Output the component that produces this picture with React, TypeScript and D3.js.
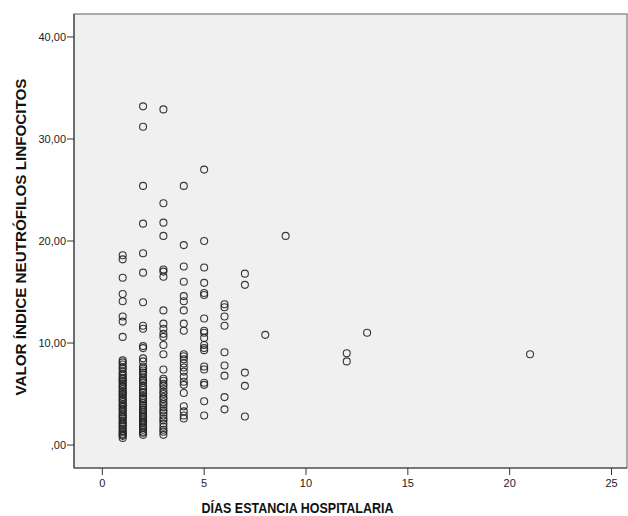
import React from "react";
import * as d3 from "d3";

// valores (días de estancia -> índice neutrófilos/linfocitos)
const day1 = [18.6, 18.2, 16.4, 14.8, 14.1, 12.6, 12.1, 10.6, 8.3, 8.1, 7.9, 7.6, 7.5, 7.2, 7.0, 6.8, 6.6, 6.5, 6.3, 6.2, 6.0, 5.8, 5.7, 5.5, 5.3, 5.2, 5.0, 4.9, 4.7, 4.5, 4.4, 4.2, 4.0, 3.9, 3.7, 3.5, 3.4, 3.2, 3.0, 2.9, 2.7, 2.6, 2.4, 2.2, 2.1, 1.9, 1.8, 1.6, 1.4, 1.3, 1.1, 1.0, 0.9, 0.7];
const day2 = [33.2, 31.2, 25.4, 21.7, 18.8, 16.9, 14.0, 11.7, 11.4, 9.7, 9.5, 8.5, 8.2, 7.7, 7.5, 7.3, 7.1, 6.9, 6.6, 6.4, 6.3, 6.1, 5.8, 5.6, 5.4, 5.2, 5.1, 4.8, 4.6, 4.5, 4.3, 4.1, 3.9, 3.7, 3.5, 3.4, 3.2, 3.0, 2.8, 2.7, 2.5, 2.3, 2.2, 2.0, 1.8, 1.7, 1.5, 1.3, 1.2, 1.0];
const day3 = [32.9, 23.7, 21.8, 20.5, 17.2, 17.0, 16.5, 13.2, 11.9, 11.4, 10.9, 10.6, 9.8, 8.9, 7.4, 6.5, 6.3, 6.0, 5.8, 5.5, 5.2, 5.0, 4.7, 4.5, 4.2, 4.0, 3.7, 3.4, 3.2, 2.9, 2.6, 2.4, 2.1, 1.8, 1.5, 1.3, 1.0];
const day4 = [25.4, 19.6, 17.5, 16.0, 14.6, 14.1, 13.2, 11.9, 11.2, 8.9, 8.7, 8.4, 8.0, 7.6, 7.2, 6.7, 6.2, 5.9, 5.1, 3.8, 3.3, 2.9, 2.6];
const day5 = [27.0, 20.0, 17.4, 15.9, 14.9, 14.7, 12.4, 11.2, 11.0, 10.5, 9.8, 9.5, 9.3, 7.7, 7.4, 6.1, 5.9, 4.3, 2.9];
const day6 = [13.8, 13.5, 12.6, 11.7, 9.1, 7.8, 6.8, 4.7, 3.5];
const day7 = [16.8, 15.7, 7.1, 5.8, 2.8];
const day8 = [10.8];
const day9 = [20.5];
const day12 = [9.0, 8.2];
const day13 = [11.0];
const day21 = [8.9];

const days = [1, 2, 3, 4, 5, 6, 7, 8, 9, 12, 13, 21];
const valuesByDay = [day1, day2, day3, day4, day5, day6, day7, day8, day9, day12, day13, day21];

const xTicks = [0, 5, 10, 15, 20, 25];
const yTicks = [0, 10, 20, 30, 40];

const xTitle = "DÍAS ESTANCIA HOSPITALARIA";
const yTitle = "VALOR ÍNDICE NEUTRÓFILOS LINFOCITOS";

const W = 628;
const H = 516;
const plot = { left: 74, right: 627, top: 14, bottom: 468 };

const fmt = (v: number) => (v === 0 ? ",00" : v.toFixed(2).replace(".", ","));

export default function App() {
  const x = d3.scaleLinear().domain([-1.39, 25.76]).range([plot.left, plot.right]);
  const y = d3.scaleLinear().domain([-2.25, 42.25]).range([plot.bottom, plot.top]);

  const points = days.flatMap((d, i) => valuesByDay[i].map((v) => ({ d, v })));
  const font = "'Liberation Sans', Arial, sans-serif";

  return (
    <svg width={W} height={H} style={{ position: "absolute", left: 0, top: 0, background: "#fff" }}>
      <rect x={plot.left} y={plot.top} width={plot.right - plot.left} height={plot.bottom - plot.top}
        fill="#f0f0f0" stroke="#7a7a7a" strokeWidth={1.2} />
      <line x1={plot.left} x2={plot.left} y1={plot.top} y2={plot.bottom} stroke="#444" strokeWidth={1.2} />
      <line x1={plot.left} x2={plot.right} y1={plot.bottom} y2={plot.bottom} stroke="#444" strokeWidth={1.2} />

      {yTicks.map((t) => (
        <g key={"y" + t}>
          <line x1={plot.left - 7} x2={plot.left} y1={y(t)} y2={y(t)} stroke="#333" />
          <text x={plot.left - 8} y={y(t) + 4} textAnchor="end" fontSize={11} fontFamily={font} fill="#222">{fmt(t)}</text>
        </g>
      ))}
      {xTicks.map((t) => (
        <g key={"x" + t}>
          <line x1={x(t)} x2={x(t)} y1={plot.bottom} y2={plot.bottom + 7} stroke="#333" />
          <text x={x(t)} y={plot.bottom + 19} textAnchor="middle" fontSize={11} fontFamily={font} fill="#222">{t}</text>
        </g>
      ))}

      {points.map((p, i) => (
        <circle key={i} cx={x(p.d)} cy={y(p.v)} r={3.5} fill="none" stroke="#222" strokeOpacity={0.9} strokeWidth={1.1} />
      ))}

      <text x={297.5} y={513} textAnchor="middle" fontSize={15} fontWeight="bold" fontFamily={font}
        fill="#111" textLength={192} lengthAdjust="spacingAndGlyphs">{xTitle}</text>
      <text transform={`translate(26,237) rotate(-90)`} textAnchor="middle" fontSize={14} fontWeight="bold"
        fontFamily={font} fill="#111" textLength={317} lengthAdjust="spacingAndGlyphs">{yTitle}</text>
    </svg>
  );
}
